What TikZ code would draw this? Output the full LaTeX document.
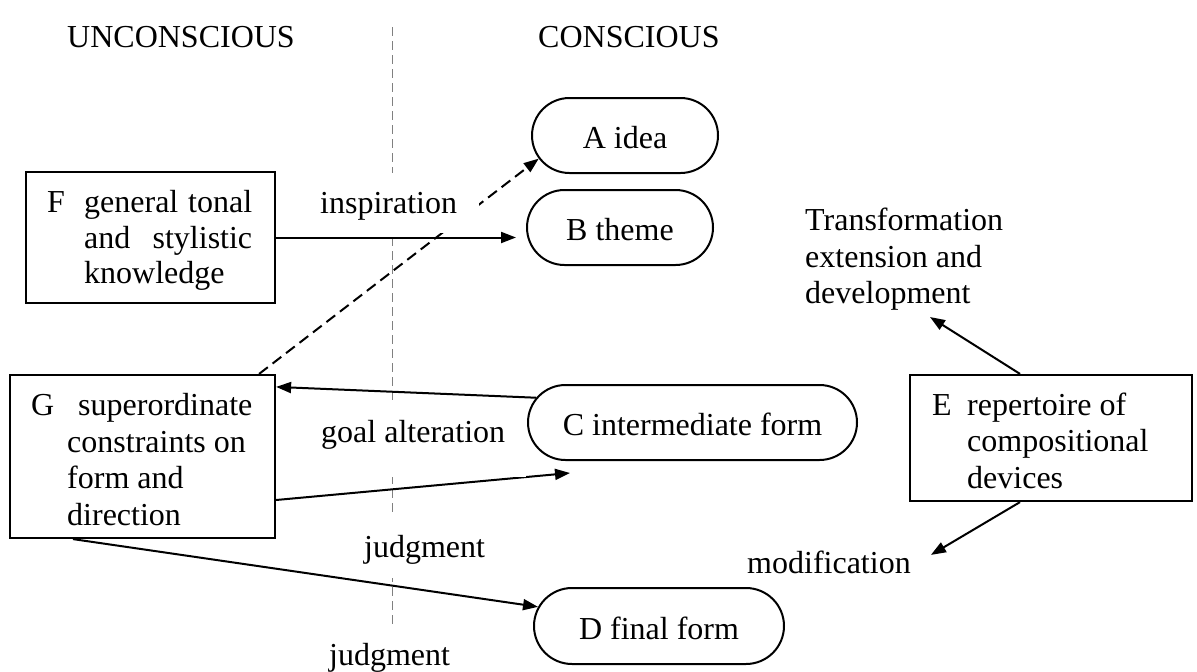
\documentclass[tikz,border=0pt]{standalone}
\usepackage{fontspec}
\setmainfont{Liberation Serif}
\usetikzlibrary{arrows.meta,shapes.misc}
\begin{document}
\begin{tikzpicture}[x=1pt,y=-1pt,
  every node/.style={font=\fontsize{32}{36}\selectfont},
  lbl/.style={inner sep=0pt, anchor=base west},
  wlbl/.style={fill=white, inner ysep=0pt, anchor=base west},
  stad/.style={rounded rectangle, draw, line width=2pt, fill=white, inner sep=0pt, text height=26pt, text depth=0pt},
  sq/.style={rectangle, draw, line width=2.2pt, inner sep=0pt},
  arr/.style={line width=2pt, -{Triangle[length=15pt,width=11pt]}},
  darr/.style={arr, dash pattern=on 11pt off 6pt},
  vline/.style={line width=1pt, black!50, dash pattern=on 9pt off 5pt}
]
\fill[white] (0,0) rectangle (1197,672);
\useasboundingbox (0,0) rectangle (1197,672);

% dividing line
\coordinate (vtop) at (392,27);
\coordinate (vbot) at (392,625);
\draw[vline] (vtop) -- (vbot);

% headings
\node[lbl] (unc) at (67,47) {UNCONSCIOUS};
\node[lbl] (con) at (538,47) {CONSCIOUS};

% rounded nodes
\node[stad, minimum width=186pt, minimum height=75pt] (A) at (625,135.5) {A idea};
\node[stad, minimum width=186pt, minimum height=75pt] (B) at (620,227.5) {B theme};
\node[stad, minimum width=329pt, minimum height=75pt] (C) at (692.5,422.5) {C intermediate form};
\node[stad, minimum width=250pt, minimum height=76pt] (D) at (659,626) {D final form};

% rectangular boxes
\node[sq, minimum width=282pt, minimum height=126pt] (E) at (1051,438) {};
\node[sq, minimum width=249pt, minimum height=131pt] (F) at (150.5,237.5) {};
\node[sq, minimum width=265pt, minimum height=163pt] (G) at (142.5,456.5) {};

% box texts
\node[lbl] (Fl) at (47,212) {F};
\node[lbl] (F1) at (84,212) {\makebox[168pt][s]{general tonal}};
\node[lbl] (F2) at (84,248) {\makebox[168pt][s]{and stylistic}};
\node[lbl] (F3) at (84,283) {knowledge};

\node[lbl] (Gl) at (31,415) {G};
\node[lbl] (G1) at (78,415) {superordinate};
\node[lbl] (G2) at (67,452) {constraints on};
\node[lbl] (G3) at (67,488) {form and};
\node[lbl] (G4) at (67,525) {direction};

\node[lbl] (El) at (932,415) {E};
\node[lbl] (E1) at (967,415) {repertoire of};
\node[lbl] (E2) at (967,451) {compositional};
\node[lbl] (E3) at (967,488) {devices};

% free labels
\node[lbl] (T1) at (805,230) {Transformation};
\node[lbl] (T2) at (805,267) {extension and};
\node[lbl] (T3) at (805,303) {development};
\node[lbl] (mod) at (747,573) {modification};

% connectors
\draw[arr, shorten >=10pt] (F.east) -- (F.east -| B.west);
\draw[darr] ([xshift=-17pt]G.north east) -- (A.195);
\draw[arr] (C.171) -- ([yshift=-13pt]G.north east);
\draw[arr] ([yshift=-43.5pt]G.east) -- ([xshift=-122.5pt,yshift=-12pt]C.south);
\draw[arr] ([xshift=-69.5pt]G.south) -- (D.171);
\draw[arr] ([xshift=-31pt]E.north) -- ([xshift=125pt,yshift=-7pt]T3.south west);
\draw[arr] ([xshift=-31pt]E.south) -- ([xshift=20pt,yshift=7pt]mod.east);

% labels with white background
\node[wlbl, inner xsep=22pt, text height=40pt, text depth=20pt] (insp) at (298,213) {inspiration};
\node[wlbl, inner xsep=21pt, text height=42pt, text depth=35pt] (goal) at (300,442) {goal alteration};
\node[wlbl, inner xsep=18pt, text height=40pt, text depth=21pt] (jud1) at (346,557) {judgment};
\node[wlbl, inner xsep=18pt, text height=36pt, text depth=7pt] (jud2) at (311,665) {judgment};
\end{tikzpicture}
\end{document}
